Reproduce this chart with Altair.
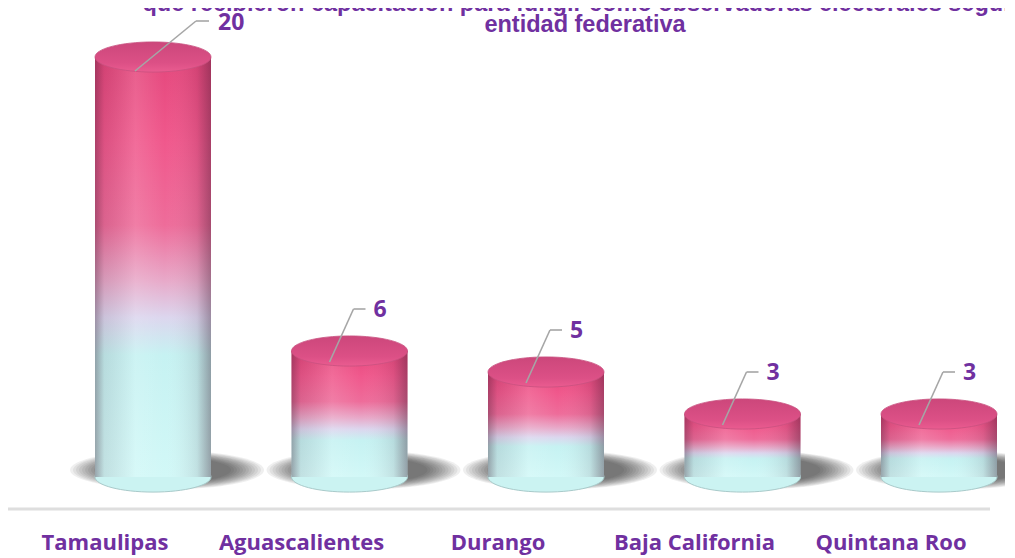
import altair as alt
import pandas as pd

categories = ["Tamaulipas", "Aguascalientes", "Durango", "Baja California", "Quintana Roo"]
values = [20, 6, 5, 3, 3]
title_lines = [
    "que recibieron capacitación para fungir como observadoras electorales según",
    "entidad federativa",
]

df = pd.DataFrame({"entidad": categories, "valor": values})

PURPLE = "#7030A0"
BAR_W = 116


def ellipse_path(ry):
    k = 0.5523
    return (
        f"M -1 0 C -1 {-k*ry:.4f} {-k:.4f} {-ry} 0 {-ry} "
        f"C {k:.4f} {-ry} 1 {-k*ry:.4f} 1 0 "
        f"C 1 {k*ry:.4f} {k:.4f} {ry} 0 {ry} "
        f"C {-k:.4f} {ry} -1 {k*ry:.4f} -1 0 Z"
    )


CAP = ellipse_path(0.26)
SHADOW = ellipse_path(0.2)

x_enc = alt.X(
    "entidad:N",
    sort=categories,
    scale=alt.Scale(type="band", range=[46.75, 1029.25], paddingInner=0.41, paddingOuter=0.205),
    axis=None,
)
y_scale = alt.Scale(domain=[0, 20], range=[469, 49], nice=False)
y_enc = alt.Y("valor:Q", scale=y_scale, axis=None)

base = alt.Chart(df).transform_calculate(cero="0")

# soft shadow built from many faint ellipses
shadow_layers = []
for i in range(12):
    w = 194 - i * 6
    shadow_layers.append(
        base.mark_point(
            shape=SHADOW, size=w * w, filled=True, fill="#1a1a1a", opacity=0.07,
            strokeWidth=0, xOffset=14, yOffset=-7,
        ).encode(x=x_enc, y=alt.Y("cero:Q", scale=y_scale, axis=None))
    )

bottom_cap = base.mark_point(
    shape=CAP, size=BAR_W * BAR_W, filled=True, fill="#CBF3F2", opacity=1,
    stroke="#A9CACA", strokeWidth=1,
).encode(x=x_enc, y=alt.Y("cero:Q", scale=y_scale, axis=None))

body_grad = alt.LinearGradient(
    gradient="linear", x1=0, y1=0, x2=0, y2=1,
    stops=[
        alt.GradientStop(color="#E4477C", offset=0),
        alt.GradientStop(color="#F0588C", offset=0.2),
        alt.GradientStop(color="#EE6C9A", offset=0.4),
        alt.GradientStop(color="#E8A8C8", offset=0.53),
        alt.GradientStop(color="#DCD6EE", offset=0.62),
        alt.GradientStop(color="#C6F2F2", offset=0.71),
        alt.GradientStop(color="#D2F8F7", offset=1),
    ],
)
body = base.mark_bar(width=BAR_W, color=body_grad, strokeWidth=0).encode(
    x=x_enc, y=y_enc, y2=alt.Y2("cero:Q")
)

shade_grad = alt.LinearGradient(
    gradient="linear", x1=0, y1=0, x2=1, y2=0,
    stops=[
        alt.GradientStop(color="rgba(50,20,40,0.36)", offset=0),
        alt.GradientStop(color="rgba(50,20,40,0.10)", offset=0.08),
        alt.GradientStop(color="rgba(255,255,255,0.12)", offset=0.35),
        alt.GradientStop(color="rgba(255,255,255,0.0)", offset=0.6),
        alt.GradientStop(color="rgba(50,20,40,0.10)", offset=0.88),
        alt.GradientStop(color="rgba(50,20,40,0.38)", offset=1),
    ],
)
shade = base.mark_bar(width=BAR_W, color=shade_grad, strokeWidth=0).encode(
    x=x_enc, y=y_enc, y2=alt.Y2("cero:Q")
)

top_grad = alt.LinearGradient(
    gradient="linear", x1=0, y1=0, x2=0, y2=1,
    stops=[
        alt.GradientStop(color="#CC477B", offset=0),
        alt.GradientStop(color="#DC5086", offset=0.7),
        alt.GradientStop(color="#EA5C90", offset=1),
    ],
)
top_cap = base.mark_point(
    shape=CAP, size=BAR_W * BAR_W, filled=True, fill=top_grad, opacity=1,
    stroke="#C8507F", strokeWidth=0.8,
).encode(x=x_enc, y=y_enc)

small = base.transform_filter("datum.valor < 15")
big = base.transform_filter("datum.valor >= 15")

LEAD = "#A6A6A6"


def leaders(src, sx, sy, ux, uy, hx, tx, ty):
    diag = src.mark_rule(
        color=LEAD, strokeWidth=1.6, xOffset=sx, yOffset=sy, x2Offset=ux, y2Offset=uy
    ).encode(x=x_enc, x2=alt.X2("entidad:N"), y=y_enc, y2=alt.Y2("valor:Q"))
    hor = src.mark_rule(
        color=LEAD, strokeWidth=1.6, xOffset=ux, yOffset=uy, x2Offset=hx, y2Offset=uy
    ).encode(x=x_enc, x2=alt.X2("entidad:N"), y=y_enc, y2=alt.Y2("valor:Q"))
    txt = src.mark_text(
        align="left", baseline="middle", dx=tx, dy=ty, font="Open Sans",
        fontWeight="bold", fontSize=23, color=PURPLE,
    ).encode(x=x_enc, y=y_enc, text="valor:Q")
    return [diag, hor, txt]


lab_small = leaders(small, -20, 11, 4, -42, 16, 24, -41)
lab_big = leaders(big, -18, 14, 43, -36, 56, 65, -34)

cat_labels = base.mark_text(
    align="center", baseline="alphabetic", dx=-48, font="Open Sans",
    fontWeight="bold", fontSize=22, color=PURPLE,
).encode(x=x_enc, y=alt.value(542), text="entidad:N")

axis_line = alt.Chart(pd.DataFrame({"a": [0]})).mark_rule(
    color="#DEDEDE", strokeWidth=3
).encode(x=alt.value(-2), x2=alt.value(982), y=alt.value(501))

t1 = alt.Chart(pd.DataFrame({"t": [title_lines[0]]})).mark_text(
    align="center", baseline="alphabetic", font="Liberation Sans", fontWeight="bold",
    fontSize=23.5, color=PURPLE,
).encode(x=alt.value(572), y=alt.value(3), text="t:N")
t2 = alt.Chart(pd.DataFrame({"t": [title_lines[1]]})).mark_text(
    align="center", baseline="alphabetic", font="Liberation Sans", fontWeight="bold",
    fontSize=23.5, color=PURPLE,
).encode(x=alt.value(577), y=alt.value(24), text="t:N")

chart = alt.layer(
    *shadow_layers, bottom_cap, body, shade, top_cap, *lab_small, *lab_big,
    cat_labels, axis_line, t1, t2,
).properties(
    width=997, height=549,
    padding={"left": 0, "right": 0, "top": 0, "bottom": 0},
    autosize=alt.AutoSizeParams(type="none"),
    background="white",
).configure_view(stroke=None)

chart.save("out.html", embed_options={"renderer": "svg", "actions": False})
